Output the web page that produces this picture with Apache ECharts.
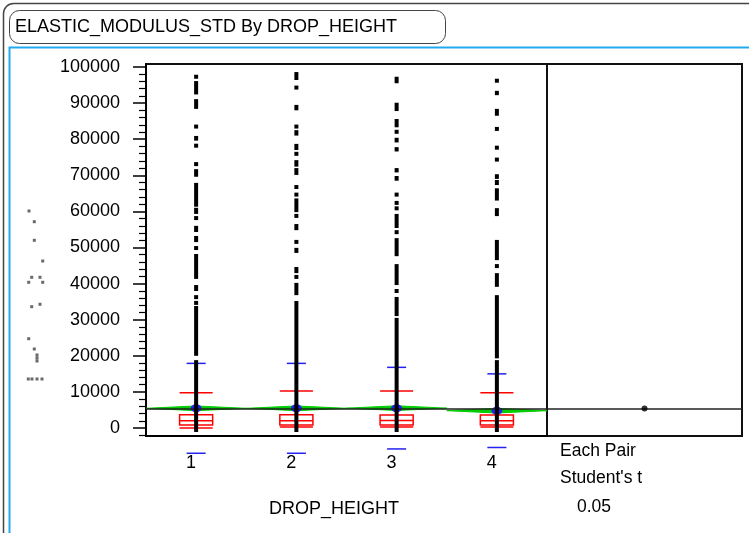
<!DOCTYPE html>
<html><head><meta charset="utf-8">
<script src="https://cdn.jsdelivr.net/npm/echarts@6/dist/echarts.min.js"></script>
<style>html,body{margin:0;padding:0;background:#fff}#c{width:749px;height:533px}</style>
</head><body><div id="c"></div>
<script>
const categories = ['1', '2', '3', '4'];
const yTickValues = [0, 10000, 20000, 30000, 40000, 50000, 60000, 70000, 80000, 90000, 100000];
const yMinorTickValues = [-2000, 2000, 4000, 6000, 8000, 12000, 14000, 16000, 18000, 22000, 24000, 26000, 28000,
  32000, 34000, 36000, 38000, 42000, 44000, 46000, 48000, 52000, 54000, 56000, 58000, 62000, 64000, 66000, 68000,
  72000, 74000, 76000, 78000, 82000, 84000, 86000, 88000, 92000, 94000, 96000, 98000];

// box plot statistics per DROP_HEIGHT
const q1 = [830, 830, 830, 830];
const median = [2000, 2000, 2100, 2000];
const q3 = [3650, 3650, 3600, 3600];
const lowerLine = [0, 300, 300, 300];
const upperFence = [9780, 10250, 10250, 9780];
const means = [5450, 5450, 5500, 4800];
const stdDevs = [12450, 12450, 11300, 10200];
const ciHalf = [650, 650, 650, 650];
const grandMean = 5400;

// observed values (runs of overlapping points: [low, high])
const runs1 = [[97300, 97300], [92400, 96100], [88400, 91100], [83500, 83500], [79600, 80900], [77800, 78600],
  [73100, 73100], [69600, 71700], [61300, 67900], [59300, 61000], [57600, 58700], [54300, 56000], [51500, 53200],
  [49300, 50400], [41300, 48200], [37950, 39600], [35700, 36800], [34100, 35200], [20000, 33800], [-1100, 18800]];
const runs2 = [[96400, 98600], [94300, 94300], [88000, 89500], [83500, 83500], [81000, 82500], [77000, 78700],
  [75400, 76500], [72400, 74200], [70100, 72000], [66200, 67300], [64100, 65200], [59800, 63600], [58200, 59300],
  [54800, 56500], [51000, 52100], [48500, 49900], [42900, 44600], [41300, 42400], [36800, 40200], [-1100, 35200]];
const runs3 = [[95500, 97300], [87800, 90100], [83300, 85600], [81600, 82500], [79100, 80400], [76600, 77800],
  [70800, 72000], [68500, 69800], [64100, 65200], [61800, 62900], [60300, 61400], [55400, 59300], [53700, 54800],
  [47600, 52600], [39600, 45400], [37400, 38500], [31000, 36300], [-1100, 30500]];
const runs4 = [[95700, 96700], [92200, 93400], [86500, 88400], [82400, 83300], [77200, 78100], [73800, 74900],
  [69000, 70300], [67300, 68700], [63000, 66400], [58700, 60900], [46500, 52100], [44300, 45400], [39100, 42900],
  [19300, 36800], [-1100, 18800]];

// faint marks at left margin (garbled axis title)
const leftDots = [[29, 211], [34.3, 221.7], [34.3, 240.3], [42.7, 261], [31.7, 277.3], [40, 277.3], [28.7, 282.3],
  [42.7, 282.3], [31.7, 306.7], [40, 304.3], [28.7, 338.7], [34.3, 349], [37, 355], [37, 358], [37, 361],
  [28.3, 379], [32, 379], [37, 379], [42, 379]];

const FONT = "'Liberation Sans', Arial, sans-serif";

const runData = [];
[runs1, runs2, runs3, runs4].forEach((r, i) => r.forEach(p => runData.push([i, p[0], p[1]])));
const statData = categories.map((c, i) => [i, q1[i], median[i], q3[i], upperFence[i], lowerLine[i], means[i], stdDevs[i], ciHalf[i]]);

const chart = echarts.init(document.getElementById('c'), null, {renderer: 'canvas'});
chart.setOption({
  animation: false,
  backgroundColor: '#fff',
  grid: [
    {left: 146, top: 64, width: 401, height: 372, show: true, borderColor: '#111', borderWidth: 2, backgroundColor: 'transparent'},
    {left: 547, top: 64, width: 195, height: 372, show: true, borderColor: '#111', borderWidth: 2, backgroundColor: 'transparent'},
    {left: 0, top: 0, width: 749, height: 533, show: false}
  ],
  xAxis: [
    {type: 'category', gridIndex: 0, data: categories, boundaryGap: true,
     axisLine: {onZero: false, lineStyle: {color: '#000', width: 2}},
     axisTick: {length: 9, lineStyle: {color: '#000', width: 1.5}},
     axisLabel: {color: '#000', fontFamily: FONT, fontSize: 18, margin: 18, padding: [0, 10, 0, 0]},
     splitLine: {show: false}},
    {type: 'value', gridIndex: 1, min: 0, max: 1, show: false},
    {type: 'value', gridIndex: 2, min: 0, max: 749, show: false}
  ],
  yAxis: [
    {type: 'value', gridIndex: 0, min: -2216, max: 100831, position: 'left',
     axisLine: {show: true, lineStyle: {color: '#000', width: 2}},
     axisTick: {show: true, length: 13, customValues: yTickValues, lineStyle: {color: '#000', width: 1.5}},
     axisLabel: {customValues: yTickValues, color: '#000', fontFamily: FONT, fontSize: 18, margin: 26,
       formatter: v => String(Math.round(v))},
     splitLine: {show: false}},
    {type: 'value', gridIndex: 0, min: -2216, max: 100831, position: 'left',
     axisLine: {show: false},
     axisTick: {show: true, length: 7, customValues: yMinorTickValues, lineStyle: {color: '#000', width: 1.2}},
     axisLabel: {show: false}, splitLine: {show: false}},
    {type: 'value', gridIndex: 1, min: -2216, max: 100831, show: false},
    {type: 'value', gridIndex: 2, min: 0, max: 533, inverse: true, show: false}
  ],
  series: [
    { // mean diamonds
      type: 'custom', xAxisIndex: 0, yAxisIndex: 0, z: 2, clip: false,
      data: statData,
      renderItem: function (params, api) {
        const c = api.value(0), m = api.value(6), ci = api.value(8);
        const bw = api.size([1, 0])[0];
        const pc = api.coord([c, m]);
        const top = api.coord([c, m + ci])[1], bot = api.coord([c, m - ci])[1];
        return {type: 'polygon', shape: {points: [[pc[0] - bw / 2, pc[1]], [pc[0], top], [pc[0] + bw / 2, pc[1]], [pc[0], bot]]},
          style: {fill: '#00cc00', stroke: '#00cc00', lineWidth: 1}};
      }
    },
    { // boxes, fences, std lines
      type: 'custom', xAxisIndex: 0, yAxisIndex: 0, z: 3, clip: false,
      data: statData,
      renderItem: function (params, api) {
        const c = api.value(0);
        const bw = api.size([1, 0])[0];
        const x = api.coord([c, 0])[0];
        const w = bw * 0.33, sw = bw * 0.19;
        const y = v => api.coord([c, v])[1];
        const red = {stroke: '#ff0000', lineWidth: 1.5, fill: null};
        const blue = {stroke: '#2222ee', lineWidth: 1.5};
        const m = api.value(6), sd = api.value(7);
        return {type: 'group', children: [
          {type: 'rect', shape: {x: x - w / 2, y: y(api.value(3)), width: w, height: y(api.value(1)) - y(api.value(3))}, style: red},
          {type: 'line', shape: {x1: x - w / 2, y1: y(api.value(2)), x2: x + w / 2, y2: y(api.value(2))}, style: red},
          {type: 'line', shape: {x1: x - w / 2, y1: y(api.value(5)), x2: x + w / 2, y2: y(api.value(5))}, style: red},
          {type: 'line', shape: {x1: x - w / 2, y1: y(api.value(4)), x2: x + w / 2, y2: y(api.value(4))}, style: red},
          {type: 'line', shape: {x1: x - sw / 2, y1: y(m + sd), x2: x + sw / 2, y2: y(m + sd)}, style: blue},
          {type: 'line', shape: {x1: x - sw / 2, y1: y(m - sd), x2: x + sw / 2, y2: y(m - sd)}, style: blue},
          {type: 'ellipse', shape: {cx: x, cy: y(m), rx: 5.5, ry: 4}, style: {fill: '#2222ee'}}
        ]};
      }
    },
    { // grand mean line, main panel
      type: 'line', xAxisIndex: 0, yAxisIndex: 0, data: [], z: 4,
      markLine: {silent: true, symbol: 'none', label: {show: false},
        lineStyle: {color: '#222', width: 1.5, type: 'solid'}, data: [{yAxis: grandMean}]}
    },
    { // observed values
      type: 'custom', xAxisIndex: 0, yAxisIndex: 0, z: 5, clip: false,
      data: runData,
      renderItem: function (params, api) {
        const c = api.value(0), lo = api.value(1), hi = api.value(2);
        const pLo = api.coord([c, lo]), pHi = api.coord([c, hi]);
        let y0 = pHi[1], y1 = pLo[1];
        if (y1 - y0 < 4) { const mm = (y0 + y1) / 2; y0 = mm - 2; y1 = mm + 2; }
        return {type: 'rect', shape: {x: pLo[0] - 2, y: y0, width: 4, height: y1 - y0}, style: {fill: '#000'}};
      }
    },
    { // right panel: grand mean
      type: 'scatter', xAxisIndex: 1, yAxisIndex: 2, z: 5, symbolSize: 6,
      itemStyle: {color: '#000'}, data: [[0.5, grandMean]],
      markLine: {silent: true, symbol: 'none', label: {show: false},
        lineStyle: {color: '#222', width: 1.5, type: 'solid'}, data: [{yAxis: grandMean}]}
    },
    {
      type: 'scatter', xAxisIndex: 2, yAxisIndex: 3, symbol: 'rect', symbolSize: 3,
      itemStyle: {color: '#444'}, data: leftDots, silent: true
    }
  ],
  graphic: [
    {type: 'rect', shape: {x: 3.5, y: 3.5, width: 780, height: 560, r: 10}, style: {fill: null, stroke: '#444', lineWidth: 1.5}, z: 0, silent: true},
    {type: 'polyline', shape: {points: [[9.5, 540], [9.5, 47.5], [760, 47.5]]}, style: {fill: null, stroke: '#22aaee', lineWidth: 2}, z: 0, silent: true},
    {type: 'rect', shape: {x: 9.5, y: 10.5, width: 436, height: 33, r: 10}, style: {fill: '#fff', stroke: '#444', lineWidth: 1}, z: 1, silent: true},
    {type: 'text', x: 15, y: 27, style: {text: 'ELASTIC_MODULUS_STD By DROP_HEIGHT', font: '18px ' + FONT, fill: '#000', verticalAlign: 'middle'}, z: 2},
    {type: 'text', x: 334, y: 509, style: {text: 'DROP_HEIGHT', font: '18px ' + FONT, fill: '#000', align: 'center', verticalAlign: 'middle'}, z: 2},
    {type: 'text', x: 560, y: 451, style: {text: 'Each Pair', font: '17.5px ' + FONT, fill: '#000', verticalAlign: 'middle'}, z: 2},
    {type: 'text', x: 560, y: 478, style: {text: "Student's t", font: '17.5px ' + FONT, fill: '#000', verticalAlign: 'middle'}, z: 2},
    {type: 'text', x: 577, y: 507, style: {text: '0.05', font: '17.5px ' + FONT, fill: '#000', verticalAlign: 'middle'}, z: 2}
  ]
});
</script></body></html>
